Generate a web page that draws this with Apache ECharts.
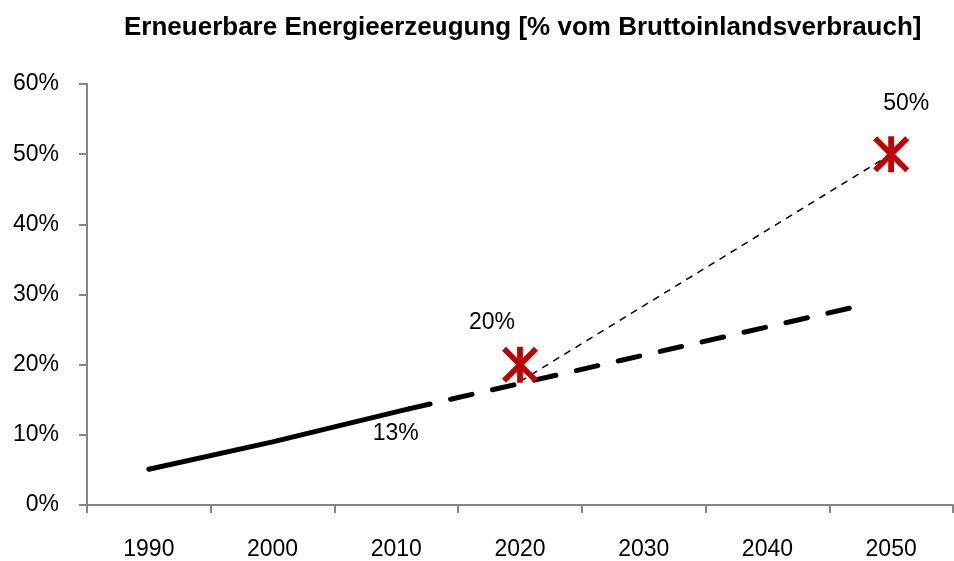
<!DOCTYPE html>
<html>
<head>
<meta charset="utf-8">
<script src="https://cdn.jsdelivr.net/npm/echarts@6/dist/echarts.min.js"></script>
<style>
  html, body { margin: 0; padding: 0; background: #fff; }
  #chart { width: 954px; height: 561px; }
</style>
</head>
<body>
<div id="chart"></div>
<script>
const xLabels = [1990, 2000, 2010, 2020, 2030, 2040, 2050]
const xTicks = [1985, 1995, 2005, 2015, 2025, 2035, 2045, 2055]

// historic share, solid
const historic = [[1990, 5.1], [2000, 9.0], [2011, 13.7]]
// trend continuation, thick dashes
const trend = [[2011, 13.7], [2048, 28.6]]
// path to the targets, thin dashes
const targetPath = [[2020, 17.6], [2050, 50]]
// targets (red stars)
const targets = [[2020, 20], [2050, 50]]
const targetLabels = ['20%', '50%']
const historicLabel = '13%'

const FONT = 'Liberation Sans'
const STAR = 'path://M42,0H58V100H42Z M11,0L100,89L89,100L0,11Z M89,0L100,11L11,100L0,89Z'

const chart = echarts.init(document.getElementById('chart'))

chart.setOption({
    animation: false,
    title: {
        text: 'Erneuerbare Energieerzeugung [% vom Bruttoinlandsverbrauch]',
        left: 119,
        top: 10,
        textStyle: { fontFamily: FONT, fontWeight: 'bold', fontSize: 26, color: '#000' }
    },
    grid: { left: 87, right: 1, top: 84, bottom: 56, containLabel: false },
    xAxis: {
        type: 'value',
        min: 1985,
        max: 2055,
        axisLine: { lineStyle: { color: '#868686', width: 2 } },
        axisTick: { show: true, length: 8, customValues: xTicks, lineStyle: { color: '#868686', width: 2 } },
        axisLabel: {
            customValues: xLabels,
            formatter: v => String(v),
            margin: 33,
            fontFamily: FONT,
            fontSize: 23,
            color: '#000'
        },
        splitLine: { show: false }
    },
    yAxis: {
        type: 'value',
        min: 0,
        max: 60,
        interval: 10,
        axisLine: { show: true, lineStyle: { color: '#868686', width: 2 } },
        axisTick: { show: true, length: 8, lineStyle: { color: '#868686', width: 2 } },
        axisLabel: {
            formatter: '{value}%',
            margin: 28,
            fontFamily: FONT,
            fontSize: 23,
            color: '#000'
        },
        splitLine: { show: false }
    },
    series: [
        {
            type: 'line',
            data: historic.map((d, i) => i === historic.length - 1 ? {
                value: d,
                label: {
                    show: true, position: 'inside', offset: [-13, 25],
                    formatter: historicLabel, fontFamily: FONT, fontSize: 23, color: '#000'
                }
            } : d),
            showSymbol: true,
            symbol: 'circle',
            symbolSize: 0.1,
            itemStyle: { color: '#000', opacity: 1 },
            lineStyle: { color: '#000', width: 5, cap: 'round' },
            z: 3
        },
        {
            type: 'line',
            data: trend,
            symbol: 'none',
            lineStyle: { color: '#000', width: 5, type: [22, 21], cap: 'round' },
            z: 3
        },
        {
            type: 'line',
            data: targetPath,
            symbol: 'none',
            lineStyle: { color: '#000', width: 1.5, type: [7, 6] },
            z: 2
        },
        {
            type: 'scatter',
            data: targets.map((d, i) => ({
                value: d,
                label: {
                    show: true,
                    position: 'inside',
                    offset: i === 0 ? [-28, -42] : [15, -51],
                    formatter: targetLabels[i],
                    fontFamily: FONT, fontSize: 23, color: '#000'
                }
            })),
            symbol: STAR,
            symbolSize: 36,
            itemStyle: { color: '#C00000', opacity: 1 },
            z: 4
        }
    ]
})
</script>
</body>
</html>
